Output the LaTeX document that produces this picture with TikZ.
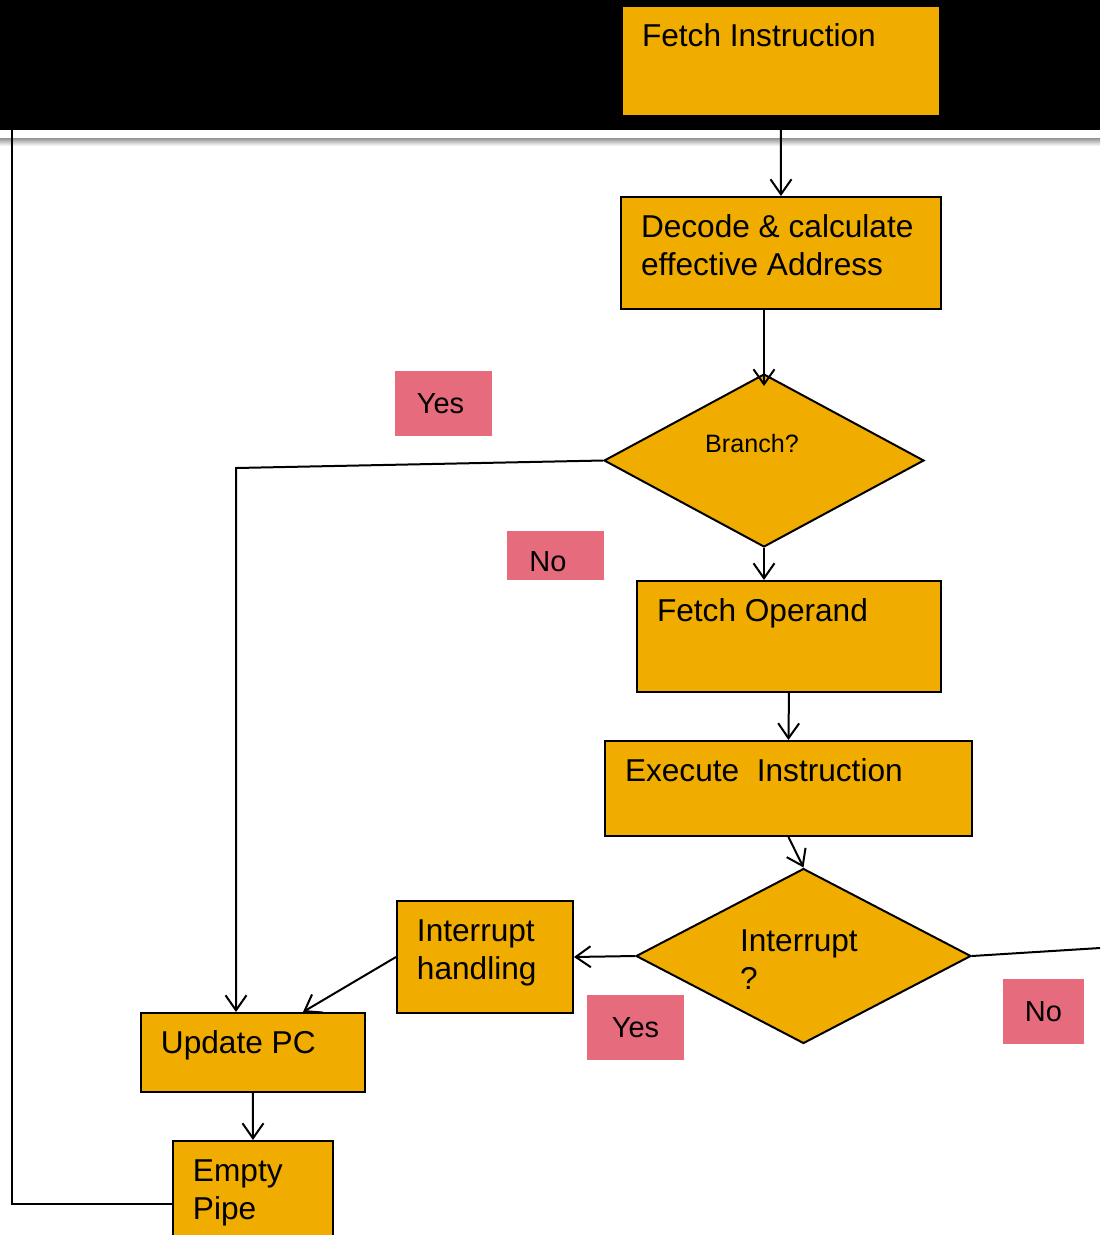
\documentclass[tikz,border=0pt]{standalone}
\usepackage{fontspec}
\setmainfont{Liberation Sans}
\usetikzlibrary{shapes.geometric, arrows.meta}
\definecolor{boxOrange}{RGB}{240,173,0}
\definecolor{tagPink}{RGB}{230,108,125}
\pgfdeclarelayer{back}
\pgfdeclarelayer{front}
\pgfsetlayers{back,main,front}
\newcommand{\stageText}[3]{\parbox[t][#2][t]{#1}{\raggedright\strut #3}}
\tikzstyle{stageBox}=[draw, line width = 0.04cm, fill = boxOrange, anchor = north west, inner xsep = 0.4cm, inner ysep = 0.28cm, font = \fontsize{18}{21.6}\selectfont]
\tikzstyle{decisionBox}=[diamond, draw, line width = 0.04cm, fill = boxOrange, inner sep = 0pt]
\tikzstyle{answerTag}=[fill = tagPink, inner sep = 0pt, font = \fontsize{16.5}{20}\selectfont]

\begin{document}
\begin{tikzpicture}[x = 0.02cm, y = -0.02cm]
\tikzstyle{flowLine} = [line width = 0.04cm]
\tikzstyle{flowArrow} = [flowLine, -{Straight Barb[length = 0.3cm, width = 0.42cm]}]
\useasboundingbox (0,0) rectangle (1100,1235);
\clip (0,0) rectangle (1100,1235);
% title band
\begin{pgfonlayer}{back}
\shade[top color = gray!85, bottom color = white] (0,138) rectangle (1100,146);
\end{pgfonlayer}
\begin{pgfonlayer}{front}
\fill[black] (0,0) rectangle (1100,130);
\node[stageBox] (fi) at (621,5) {\stageText{5.56cm}{1.64cm}{Fetch Instruction}};
\end{pgfonlayer}
% stages
\node[stageBox] (dec) at (620,196) {\stageText{5.6cm}{1.68cm}{Decode \& calculate\\effective Address}};
\node[decisionBox, minimum width = 6.4cm, minimum height = 3.46cm,
  label = {[font = \fontsize{14.3}{17}\selectfont, xshift = -0.24cm, yshift = 0.34cm]center:Branch?}] (br) at (764,460.5) {};
\node[stageBox] (fo) at (636,580) {\stageText{5.28cm}{1.66cm}{Fetch Operand}};
\node[stageBox] (ex) at (604,740) {\stageText{6.54cm}{1.34cm}{Execute~~Instruction}};
\node[decisionBox, minimum width = 6.7cm, minimum height = 3.5cm,
  label = {[inner sep = 0pt, xshift = 0.23cm, yshift = -0.07cm, font = \fontsize{18}{21.6}\selectfont]center:{\parbox[t]{3cm}{Interrupt\\?}}}] (ir) at (803.5,956) {};
\node[stageBox] (ih) at (396,900) {\stageText{2.72cm}{1.68cm}{Interrupt\\handling}};
\node[stageBox] (pc) at (140,1012) {\stageText{3.68cm}{1.02cm}{Update PC}};
\node[stageBox] (ep) at (172,1140) {\stageText{2.4cm}{1.54cm}{Empty\\Pipe}};
% answers
\node[answerTag, minimum width = 1.94cm, minimum height = 1.3cm] (yesBr) at (443.5,403.5) {Yes\kern0.12cm};
\node[answerTag, minimum width = 1.94cm, minimum height = 0.98cm, text height = 0.65cm, text depth = 0cm] (noBr) at (555.5,555.5) {No\kern0.3cm};
\node[answerTag, minimum width = 1.94cm, minimum height = 1.3cm] (yesIr) at (635.5,1027.5) {Yes};
\node[answerTag, minimum width = 1.62cm, minimum height = 1.3cm] (noIr) at (1043.5,1011.5) {No};
% connectors
\coordinate (brTurn) at (236,468);
\coordinate (offRight) at (1100,948);
\coordinate (loopCorner) at (12,1204);
\coordinate (loopTop) at (12,120);
\draw[flowArrow] (fi.south) -- (dec.north);
\draw[flowArrow, shorten > = -0.26cm] (dec.south -| br.north) -- (br.north);
\draw[flowArrow] (br.west) -- (brTurn) -- (brTurn |- pc.north);
\draw[flowArrow] (br.south) -- (br.south |- fo.north);
\draw[flowArrow] (fo.south) -- (ex.north);
\draw[flowArrow] (ex.south) -- (ir.north);
\draw[flowArrow] (ir.west) -- (ih.east);
\draw[flowLine] (ir.east) -- (offRight);
\draw[flowArrow] (ih.west) -- ([xshift = 1cm]pc.north);
\draw[flowArrow] (pc.south) -- (ep.north);
\draw[flowLine] (ep.west |- loopCorner) -- (loopCorner) -- (loopTop);
\end{tikzpicture}
\end{document}
